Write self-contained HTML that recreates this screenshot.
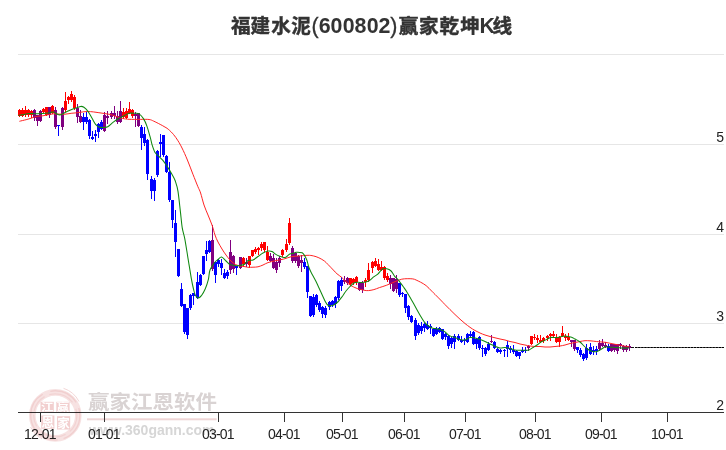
<!DOCTYPE html>
<html><head><meta charset="utf-8"><style>
html,body{margin:0;padding:0;background:#fff;}
body{width:726px;height:450px;overflow:hidden;}
svg{display:block;}
.title{font-family:"Liberation Sans","Noto Sans CJK SC",sans-serif;font-weight:bold;font-size:20px;fill:#333;}
.xl{font-family:"Liberation Sans",sans-serif;font-size:14px;fill:#222;text-anchor:middle;letter-spacing:-0.8px;}
.yl{font-family:"Liberation Sans",sans-serif;font-size:14px;fill:#222;text-anchor:end;}
.tc{font-size:19.6px;stroke:#333;stroke-width:0.45px;}
.tl{font-size:21.4px;}
.tp{font-size:21.4px;font-weight:normal;stroke:#333;stroke-width:0.3px;}
.wm{font-family:"Liberation Sans","Noto Sans CJK SC",sans-serif;}
</style></head><body>
<svg width="726" height="450" viewBox="0 0 726 450">
<rect width="726" height="450" fill="#fff"/>
<text x="230.9 250.6 271.2 291.3 311.4 318.7 330.4 342.7 354.4 366.7 378.4 390.2 398.8 419.0 439.4 460.3 479.4 492.6" y="33" class="title"><tspan class="tc">福建水泥</tspan><tspan class="tp">(</tspan><tspan class="tl">600802</tspan><tspan class="tp">)</tspan><tspan class="tc">赢家乾坤</tspan><tspan class="tl">K</tspan><tspan class="tc">线</tspan></text>
<g fill="#e6e6e6">
<rect x="18" y="54" width="706" height="1"/>
<rect x="18" y="144" width="706" height="1"/>
<rect x="18" y="234" width="706" height="1"/>
<rect x="18" y="323" width="706" height="1"/>
</g>
<g class="wm">
<text x="88" y="409" font-size="21.5" font-weight="bold" fill="#d9d3d3" transform="translate(0,410.5) scale(1,0.92) translate(0,-410.5)">赢家江恩软件</text>
<rect x="87" y="418.3" width="129.6" height="2" fill="#efd6d6"/>
<text x="89" y="435" font-size="14" font-weight="bold" fill="#d6d6d6">www.360gann.com</text>
</g>
<text x="724" y="142" class="yl">5</text>
<text x="724" y="232" class="yl">4</text>
<text x="724" y="321" class="yl">3</text>
<text x="724" y="410" class="yl">2</text>
<rect x="18" y="412" width="706" height="1" fill="#333"/>
<rect x="40" y="412" width="1" height="10" fill="#333"/>
<rect x="104" y="412" width="1" height="10" fill="#333"/>
<rect x="218" y="412" width="1" height="10" fill="#333"/>
<rect x="284" y="412" width="1" height="10" fill="#333"/>
<rect x="342" y="412" width="1" height="10" fill="#333"/>
<rect x="404" y="412" width="1" height="10" fill="#333"/>
<rect x="465" y="412" width="1" height="10" fill="#333"/>
<rect x="535" y="412" width="1" height="10" fill="#333"/>
<rect x="601" y="412" width="1" height="10" fill="#333"/>
<rect x="667" y="412" width="1" height="10" fill="#333"/>
<text x="39.9" y="439" class="xl">12-01</text>
<text x="103.9" y="439" class="xl">01-01</text>
<text x="217.9" y="439" class="xl">03-01</text>
<text x="283.9" y="439" class="xl">04-01</text>
<text x="341.9" y="439" class="xl">05-01</text>
<text x="403.9" y="439" class="xl">06-01</text>
<text x="464.9" y="439" class="xl">07-01</text>
<text x="534.9" y="439" class="xl">08-01</text>
<text x="600.9" y="439" class="xl">09-01</text>
<text x="666.9" y="439" class="xl">10-01</text>
<g class="wm">
<g style="mix-blend-mode:multiply">
<g fill="none">
<circle cx="55.3" cy="415.4" r="23" stroke="#f7e2e2" stroke-width="6.6"/>
<circle cx="55.3" cy="415.4" r="24.6" stroke="#f1cfcf" stroke-width="1.4" stroke-dasharray="30,6,22,4,40,8" />
<circle cx="55.3" cy="415.4" r="21.6" stroke="#f2d3d3" stroke-width="1.2" stroke-dasharray="18,5,26,7,12,4"/>
<path d="M63.5,388.3 A26.8,26.8 0 0 1 79,401.5" stroke="#f3d6d6" stroke-width="1"/>
<path d="M30.5,427 A26.5,26.5 0 0 0 42,439" stroke="#f3d6d6" stroke-width="1"/>
</g>
<g fill="#f2cfcf">
<rect x="40.5" y="401.8" width="13.3" height="10"/>
<rect x="56.3" y="401.8" width="13.3" height="10.2"/>
<rect x="41.2" y="415.5" width="13.2" height="13.3"/>
<rect x="57" y="416.2" width="13.2" height="13.3"/>
</g>
<g fill="#fff" font-weight="bold" text-anchor="middle" font-size="12.5">
<text x="47.2" y="410.8" transform="translate(47.2,410.8) scale(1,0.8) translate(-47.2,-410.8)">江</text>
<text x="63" y="410.8" transform="translate(63,410.8) scale(1,0.8) translate(-63,-410.8)">赢</text>
<text x="47.8" y="427.2">恩</text>
<text x="63.6" y="428">家</text>
</g>
</g>
</g>
<g>
<rect x="19" y="109" width="1" height="8" fill="#ff0000"/>
<rect x="18" y="110" width="3" height="6" fill="#ff0000"/>
<rect x="22" y="108" width="1" height="9" fill="#ff0000"/>
<rect x="21" y="110" width="3" height="6" fill="#ff0000"/>
<rect x="25" y="106" width="1" height="11" fill="#ff0000"/>
<rect x="24" y="110" width="3" height="5" fill="#ff0000"/>
<rect x="28" y="109" width="1" height="8" fill="#ff0000"/>
<rect x="27" y="110" width="3" height="5" fill="#ff0000"/>
<rect x="31" y="110" width="1" height="8" fill="#ff0000"/>
<rect x="30" y="111" width="3" height="4" fill="#ff0000"/>
<rect x="34" y="109" width="1" height="12" fill="#800080"/>
<rect x="33" y="110" width="3" height="8" fill="#800080"/>
<rect x="37" y="115" width="1" height="11" fill="#800080"/>
<rect x="36" y="115" width="3" height="6" fill="#800080"/>
<rect x="40" y="110" width="1" height="12" fill="#800080"/>
<rect x="39" y="111" width="3" height="10" fill="#800080"/>
<rect x="43" y="108" width="1" height="5" fill="#ff0000"/>
<rect x="42" y="109" width="3" height="3" fill="#ff0000"/>
<rect x="46" y="107" width="1" height="9" fill="#ff0000"/>
<rect x="45" y="107" width="3" height="8" fill="#ff0000"/>
<rect x="49" y="107" width="1" height="11" fill="#800080"/>
<rect x="48" y="107" width="3" height="8" fill="#800080"/>
<rect x="52" y="105" width="1" height="9" fill="#ff0000"/>
<rect x="51" y="106" width="3" height="7" fill="#ff0000"/>
<rect x="55" y="107" width="1" height="22" fill="#800080"/>
<rect x="54" y="110" width="3" height="17" fill="#800080"/>
<rect x="58" y="125" width="1" height="11" fill="#0000ff"/>
<rect x="57" y="125" width="3" height="1" fill="#0000ff"/>
<rect x="62" y="107" width="1" height="23" fill="#800080"/>
<rect x="61" y="108" width="3" height="19" fill="#800080"/>
<rect x="65" y="92" width="1" height="20" fill="#ff0000"/>
<rect x="64" y="101" width="3" height="9" fill="#ff0000"/>
<rect x="68" y="96" width="1" height="8" fill="#ff0000"/>
<rect x="67" y="97" width="3" height="3" fill="#ff0000"/>
<rect x="71" y="91" width="1" height="11" fill="#ff0000"/>
<rect x="70" y="94" width="3" height="6" fill="#ff0000"/>
<rect x="74" y="95" width="1" height="15" fill="#ff0000"/>
<rect x="73" y="97" width="3" height="11" fill="#ff0000"/>
<rect x="77" y="104" width="1" height="19" fill="#800080"/>
<rect x="76" y="108" width="3" height="9" fill="#800080"/>
<rect x="80" y="110" width="1" height="13" fill="#800080"/>
<rect x="79" y="116" width="3" height="6" fill="#800080"/>
<rect x="83" y="113" width="1" height="17" fill="#0000ff"/>
<rect x="82" y="117" width="3" height="5" fill="#0000ff"/>
<rect x="86" y="112" width="1" height="12" fill="#0000ff"/>
<rect x="85" y="117" width="3" height="5" fill="#0000ff"/>
<rect x="89" y="119" width="1" height="20" fill="#0000ff"/>
<rect x="88" y="120" width="3" height="16" fill="#0000ff"/>
<rect x="92" y="131" width="1" height="9" fill="#0000ff"/>
<rect x="91" y="137" width="3" height="2" fill="#0000ff"/>
<rect x="95" y="130" width="1" height="12" fill="#0000ff"/>
<rect x="94" y="134" width="3" height="2" fill="#0000ff"/>
<rect x="98" y="123" width="1" height="15" fill="#0000ff"/>
<rect x="97" y="124" width="3" height="8" fill="#0000ff"/>
<rect x="101" y="120" width="1" height="10" fill="#0000ff"/>
<rect x="100" y="122" width="3" height="7" fill="#0000ff"/>
<rect x="104" y="112" width="1" height="20" fill="#800080"/>
<rect x="103" y="115" width="3" height="16" fill="#800080"/>
<rect x="107" y="111" width="1" height="13" fill="#800080"/>
<rect x="106" y="116" width="3" height="2" fill="#800080"/>
<rect x="111" y="111" width="1" height="8" fill="#800080"/>
<rect x="110" y="113" width="3" height="4" fill="#800080"/>
<rect x="114" y="106" width="1" height="13" fill="#800080"/>
<rect x="113" y="113" width="3" height="3" fill="#800080"/>
<rect x="117" y="111" width="1" height="13" fill="#800080"/>
<rect x="116" y="116" width="3" height="6" fill="#800080"/>
<rect x="120" y="101" width="1" height="22" fill="#800080"/>
<rect x="119" y="111" width="3" height="11" fill="#800080"/>
<rect x="123" y="108" width="1" height="11" fill="#ff0000"/>
<rect x="122" y="112" width="3" height="5" fill="#ff0000"/>
<rect x="126" y="108" width="1" height="11" fill="#ff0000"/>
<rect x="125" y="111" width="3" height="7" fill="#ff0000"/>
<rect x="129" y="102" width="1" height="12" fill="#ff0000"/>
<rect x="128" y="109" width="3" height="4" fill="#ff0000"/>
<rect x="132" y="109" width="1" height="9" fill="#ff0000"/>
<rect x="131" y="110" width="3" height="6" fill="#ff0000"/>
<rect x="135" y="112" width="1" height="15" fill="#800080"/>
<rect x="134" y="114" width="3" height="2" fill="#800080"/>
<rect x="138" y="113" width="1" height="14" fill="#800080"/>
<rect x="137" y="113" width="3" height="13" fill="#800080"/>
<rect x="141" y="125" width="1" height="25" fill="#0000ff"/>
<rect x="140" y="127" width="3" height="11" fill="#0000ff"/>
<rect x="144" y="127" width="1" height="19" fill="#0000ff"/>
<rect x="143" y="134" width="3" height="9" fill="#0000ff"/>
<rect x="147" y="139" width="1" height="41" fill="#0000ff"/>
<rect x="146" y="140" width="3" height="34" fill="#0000ff"/>
<rect x="151" y="176" width="1" height="23" fill="#0000ff"/>
<rect x="150" y="179" width="3" height="12" fill="#0000ff"/>
<rect x="154" y="178" width="1" height="23" fill="#0000ff"/>
<rect x="153" y="180" width="3" height="11" fill="#0000ff"/>
<rect x="157" y="150" width="1" height="27" fill="#0000ff"/>
<rect x="156" y="151" width="3" height="24" fill="#0000ff"/>
<rect x="160" y="134" width="1" height="23" fill="#0000ff"/>
<rect x="159" y="142" width="3" height="2" fill="#0000ff"/>
<rect x="163" y="135" width="1" height="22" fill="#0000ff"/>
<rect x="162" y="135" width="3" height="20" fill="#0000ff"/>
<rect x="166" y="155" width="1" height="18" fill="#0000ff"/>
<rect x="165" y="156" width="3" height="16" fill="#0000ff"/>
<rect x="169" y="162" width="1" height="40" fill="#0000ff"/>
<rect x="168" y="172" width="3" height="28" fill="#0000ff"/>
<rect x="172" y="200" width="1" height="28" fill="#0000ff"/>
<rect x="171" y="200" width="3" height="20" fill="#0000ff"/>
<rect x="175" y="210" width="1" height="47" fill="#0000ff"/>
<rect x="174" y="223" width="3" height="19" fill="#0000ff"/>
<rect x="178" y="249" width="1" height="28" fill="#0000ff"/>
<rect x="177" y="249" width="3" height="27" fill="#0000ff"/>
<rect x="181" y="283" width="1" height="24" fill="#0000ff"/>
<rect x="180" y="289" width="3" height="17" fill="#0000ff"/>
<rect x="184" y="304" width="1" height="30" fill="#0000ff"/>
<rect x="183" y="304" width="3" height="28" fill="#0000ff"/>
<rect x="187" y="308" width="1" height="31" fill="#0000ff"/>
<rect x="186" y="308" width="3" height="27" fill="#0000ff"/>
<rect x="190" y="294" width="1" height="16" fill="#0000ff"/>
<rect x="189" y="295" width="3" height="13" fill="#0000ff"/>
<rect x="193" y="293" width="1" height="12" fill="#0000ff"/>
<rect x="192" y="293" width="3" height="3" fill="#0000ff"/>
<rect x="197" y="272" width="1" height="27" fill="#0000ff"/>
<rect x="196" y="282" width="3" height="16" fill="#0000ff"/>
<rect x="200" y="274" width="1" height="12" fill="#0000ff"/>
<rect x="199" y="275" width="3" height="10" fill="#0000ff"/>
<rect x="203" y="256" width="1" height="19" fill="#0000ff"/>
<rect x="202" y="256" width="3" height="18" fill="#0000ff"/>
<rect x="206" y="241" width="1" height="20" fill="#0000ff"/>
<rect x="205" y="250" width="3" height="4" fill="#0000ff"/>
<rect x="209" y="240" width="1" height="13" fill="#0000ff"/>
<rect x="208" y="241" width="3" height="11" fill="#0000ff"/>
<rect x="212" y="225" width="1" height="46" fill="#800080"/>
<rect x="211" y="240" width="3" height="29" fill="#800080"/>
<rect x="215" y="262" width="1" height="21" fill="#0000ff"/>
<rect x="214" y="262" width="3" height="13" fill="#0000ff"/>
<rect x="218" y="259" width="1" height="8" fill="#0000ff"/>
<rect x="217" y="260" width="3" height="4" fill="#0000ff"/>
<rect x="221" y="259" width="1" height="16" fill="#0000ff"/>
<rect x="220" y="263" width="3" height="5" fill="#0000ff"/>
<rect x="224" y="269" width="1" height="10" fill="#0000ff"/>
<rect x="223" y="273" width="3" height="5" fill="#0000ff"/>
<rect x="227" y="270" width="1" height="9" fill="#0000ff"/>
<rect x="226" y="272" width="3" height="4" fill="#0000ff"/>
<rect x="230" y="240" width="1" height="34" fill="#800080"/>
<rect x="229" y="252" width="3" height="18" fill="#800080"/>
<rect x="233" y="255" width="1" height="18" fill="#800080"/>
<rect x="232" y="256" width="3" height="13" fill="#800080"/>
<rect x="236" y="266" width="1" height="9" fill="#0000ff"/>
<rect x="235" y="266" width="3" height="2" fill="#0000ff"/>
<rect x="240" y="257" width="1" height="12" fill="#800080"/>
<rect x="239" y="257" width="3" height="11" fill="#800080"/>
<rect x="243" y="257" width="1" height="10" fill="#ff0000"/>
<rect x="242" y="258" width="3" height="6" fill="#ff0000"/>
<rect x="246" y="258" width="1" height="9" fill="#800080"/>
<rect x="245" y="262" width="3" height="2" fill="#800080"/>
<rect x="249" y="256" width="1" height="12" fill="#ff0000"/>
<rect x="248" y="256" width="3" height="9" fill="#ff0000"/>
<rect x="252" y="250" width="1" height="7" fill="#ff0000"/>
<rect x="251" y="250" width="3" height="6" fill="#ff0000"/>
<rect x="255" y="247" width="1" height="7" fill="#ff0000"/>
<rect x="254" y="249" width="3" height="3" fill="#ff0000"/>
<rect x="258" y="247" width="1" height="8" fill="#ff0000"/>
<rect x="257" y="248" width="3" height="2" fill="#ff0000"/>
<rect x="261" y="242" width="1" height="9" fill="#ff0000"/>
<rect x="260" y="244" width="3" height="4" fill="#ff0000"/>
<rect x="264" y="242" width="1" height="10" fill="#ff0000"/>
<rect x="263" y="242" width="3" height="8" fill="#ff0000"/>
<rect x="267" y="246" width="1" height="15" fill="#ff0000"/>
<rect x="266" y="252" width="3" height="8" fill="#ff0000"/>
<rect x="270" y="253" width="1" height="9" fill="#800080"/>
<rect x="269" y="256" width="3" height="5" fill="#800080"/>
<rect x="273" y="254" width="1" height="15" fill="#800080"/>
<rect x="272" y="258" width="3" height="10" fill="#800080"/>
<rect x="276" y="258" width="1" height="15" fill="#800080"/>
<rect x="275" y="262" width="3" height="8" fill="#800080"/>
<rect x="279" y="256" width="1" height="11" fill="#800080"/>
<rect x="278" y="258" width="3" height="5" fill="#800080"/>
<rect x="282" y="249" width="1" height="8" fill="#ff0000"/>
<rect x="281" y="250" width="3" height="5" fill="#ff0000"/>
<rect x="286" y="239" width="1" height="13" fill="#ff0000"/>
<rect x="285" y="244" width="3" height="6" fill="#ff0000"/>
<rect x="289" y="218" width="1" height="27" fill="#ff0000"/>
<rect x="288" y="223" width="3" height="20" fill="#ff0000"/>
<rect x="292" y="246" width="1" height="17" fill="#800080"/>
<rect x="291" y="248" width="3" height="13" fill="#800080"/>
<rect x="295" y="252" width="1" height="11" fill="#800080"/>
<rect x="294" y="253" width="3" height="8" fill="#800080"/>
<rect x="298" y="255" width="1" height="13" fill="#800080"/>
<rect x="297" y="256" width="3" height="10" fill="#800080"/>
<rect x="301" y="255" width="1" height="17" fill="#800080"/>
<rect x="300" y="260" width="3" height="3" fill="#800080"/>
<rect x="304" y="258" width="1" height="11" fill="#0000ff"/>
<rect x="303" y="262" width="3" height="5" fill="#0000ff"/>
<rect x="307" y="266" width="1" height="32" fill="#0000ff"/>
<rect x="306" y="266" width="3" height="26" fill="#0000ff"/>
<rect x="310" y="296" width="1" height="21" fill="#0000ff"/>
<rect x="309" y="296" width="3" height="20" fill="#0000ff"/>
<rect x="313" y="294" width="1" height="23" fill="#0000ff"/>
<rect x="312" y="297" width="3" height="18" fill="#0000ff"/>
<rect x="316" y="294" width="1" height="13" fill="#0000ff"/>
<rect x="315" y="295" width="3" height="10" fill="#0000ff"/>
<rect x="319" y="301" width="1" height="11" fill="#0000ff"/>
<rect x="318" y="303" width="3" height="7" fill="#0000ff"/>
<rect x="322" y="306" width="1" height="12" fill="#0000ff"/>
<rect x="321" y="307" width="3" height="7" fill="#0000ff"/>
<rect x="325" y="306" width="1" height="12" fill="#0000ff"/>
<rect x="324" y="308" width="3" height="7" fill="#0000ff"/>
<rect x="329" y="301" width="1" height="9" fill="#0000ff"/>
<rect x="328" y="302" width="3" height="5" fill="#0000ff"/>
<rect x="332" y="300" width="1" height="7" fill="#0000ff"/>
<rect x="331" y="301" width="3" height="4" fill="#0000ff"/>
<rect x="335" y="296" width="1" height="12" fill="#0000ff"/>
<rect x="334" y="297" width="3" height="7" fill="#0000ff"/>
<rect x="338" y="280" width="1" height="20" fill="#0000ff"/>
<rect x="337" y="281" width="3" height="17" fill="#0000ff"/>
<rect x="341" y="277" width="1" height="14" fill="#0000ff"/>
<rect x="340" y="280" width="3" height="6" fill="#0000ff"/>
<rect x="344" y="276" width="1" height="8" fill="#800080"/>
<rect x="343" y="280" width="3" height="2" fill="#800080"/>
<rect x="347" y="277" width="1" height="8" fill="#800080"/>
<rect x="346" y="278" width="3" height="5" fill="#800080"/>
<rect x="350" y="278" width="1" height="8" fill="#ff0000"/>
<rect x="349" y="278" width="3" height="6" fill="#ff0000"/>
<rect x="353" y="278" width="1" height="7" fill="#ff0000"/>
<rect x="352" y="279" width="3" height="4" fill="#ff0000"/>
<rect x="356" y="276" width="1" height="9" fill="#ff0000"/>
<rect x="355" y="277" width="3" height="5" fill="#ff0000"/>
<rect x="359" y="282" width="1" height="9" fill="#800080"/>
<rect x="358" y="283" width="3" height="7" fill="#800080"/>
<rect x="362" y="281" width="1" height="12" fill="#800080"/>
<rect x="361" y="283" width="3" height="7" fill="#800080"/>
<rect x="365" y="278" width="1" height="9" fill="#ff0000"/>
<rect x="364" y="280" width="3" height="2" fill="#ff0000"/>
<rect x="368" y="263" width="1" height="19" fill="#ff0000"/>
<rect x="367" y="270" width="3" height="10" fill="#ff0000"/>
<rect x="372" y="261" width="1" height="12" fill="#ff0000"/>
<rect x="371" y="262" width="3" height="6" fill="#ff0000"/>
<rect x="375" y="258" width="1" height="9" fill="#ff0000"/>
<rect x="374" y="261" width="3" height="5" fill="#ff0000"/>
<rect x="378" y="259" width="1" height="12" fill="#ff0000"/>
<rect x="377" y="264" width="3" height="6" fill="#ff0000"/>
<rect x="381" y="261" width="1" height="10" fill="#ff0000"/>
<rect x="380" y="267" width="3" height="3" fill="#ff0000"/>
<rect x="384" y="266" width="1" height="14" fill="#ff0000"/>
<rect x="383" y="267" width="3" height="11" fill="#ff0000"/>
<rect x="387" y="273" width="1" height="9" fill="#ff0000"/>
<rect x="386" y="276" width="3" height="4" fill="#ff0000"/>
<rect x="390" y="275" width="1" height="14" fill="#800080"/>
<rect x="389" y="278" width="3" height="6" fill="#800080"/>
<rect x="393" y="278" width="1" height="14" fill="#800080"/>
<rect x="392" y="278" width="3" height="13" fill="#800080"/>
<rect x="396" y="275" width="1" height="18" fill="#800080"/>
<rect x="395" y="279" width="3" height="10" fill="#800080"/>
<rect x="399" y="283" width="1" height="14" fill="#0000ff"/>
<rect x="398" y="283" width="3" height="12" fill="#0000ff"/>
<rect x="402" y="292" width="1" height="5" fill="#0000ff"/>
<rect x="401" y="293" width="3" height="1" fill="#0000ff"/>
<rect x="405" y="294" width="1" height="19" fill="#0000ff"/>
<rect x="404" y="294" width="3" height="14" fill="#0000ff"/>
<rect x="408" y="305" width="1" height="15" fill="#0000ff"/>
<rect x="407" y="306" width="3" height="11" fill="#0000ff"/>
<rect x="411" y="315" width="1" height="8" fill="#0000ff"/>
<rect x="410" y="316" width="3" height="6" fill="#0000ff"/>
<rect x="415" y="318" width="1" height="22" fill="#0000ff"/>
<rect x="414" y="320" width="3" height="16" fill="#0000ff"/>
<rect x="418" y="323" width="1" height="12" fill="#0000ff"/>
<rect x="417" y="325" width="3" height="8" fill="#0000ff"/>
<rect x="421" y="322" width="1" height="12" fill="#0000ff"/>
<rect x="420" y="326" width="3" height="5" fill="#0000ff"/>
<rect x="424" y="323" width="1" height="9" fill="#0000ff"/>
<rect x="423" y="324" width="3" height="4" fill="#0000ff"/>
<rect x="427" y="321" width="1" height="9" fill="#0000ff"/>
<rect x="426" y="325" width="3" height="4" fill="#0000ff"/>
<rect x="430" y="324" width="1" height="10" fill="#0000ff"/>
<rect x="429" y="326" width="3" height="2" fill="#0000ff"/>
<rect x="433" y="328" width="1" height="9" fill="#0000ff"/>
<rect x="432" y="329" width="3" height="7" fill="#0000ff"/>
<rect x="436" y="327" width="1" height="8" fill="#0000ff"/>
<rect x="435" y="329" width="3" height="5" fill="#0000ff"/>
<rect x="439" y="327" width="1" height="6" fill="#0000ff"/>
<rect x="438" y="328" width="3" height="4" fill="#0000ff"/>
<rect x="442" y="329" width="1" height="11" fill="#0000ff"/>
<rect x="441" y="329" width="3" height="10" fill="#0000ff"/>
<rect x="445" y="333" width="1" height="7" fill="#0000ff"/>
<rect x="444" y="334" width="3" height="3" fill="#0000ff"/>
<rect x="448" y="335" width="1" height="14" fill="#0000ff"/>
<rect x="447" y="336" width="3" height="10" fill="#0000ff"/>
<rect x="451" y="337" width="1" height="11" fill="#0000ff"/>
<rect x="450" y="338" width="3" height="6" fill="#0000ff"/>
<rect x="454" y="334" width="1" height="15" fill="#0000ff"/>
<rect x="453" y="336" width="3" height="6" fill="#0000ff"/>
<rect x="458" y="334" width="1" height="7" fill="#0000ff"/>
<rect x="457" y="336" width="3" height="4" fill="#0000ff"/>
<rect x="461" y="336" width="1" height="7" fill="#0000ff"/>
<rect x="460" y="340" width="3" height="2" fill="#0000ff"/>
<rect x="464" y="338" width="1" height="7" fill="#0000ff"/>
<rect x="463" y="340" width="3" height="1" fill="#0000ff"/>
<rect x="467" y="333" width="1" height="10" fill="#0000ff"/>
<rect x="466" y="334" width="3" height="8" fill="#0000ff"/>
<rect x="470" y="331" width="1" height="6" fill="#0000ff"/>
<rect x="469" y="334" width="3" height="2" fill="#0000ff"/>
<rect x="473" y="331" width="1" height="14" fill="#0000ff"/>
<rect x="472" y="332" width="3" height="12" fill="#0000ff"/>
<rect x="476" y="338" width="1" height="11" fill="#0000ff"/>
<rect x="475" y="339" width="3" height="5" fill="#0000ff"/>
<rect x="479" y="336" width="1" height="14" fill="#0000ff"/>
<rect x="478" y="337" width="3" height="11" fill="#0000ff"/>
<rect x="482" y="345" width="1" height="12" fill="#0000ff"/>
<rect x="481" y="348" width="3" height="1" fill="#0000ff"/>
<rect x="485" y="347" width="1" height="9" fill="#0000ff"/>
<rect x="484" y="348" width="3" height="6" fill="#0000ff"/>
<rect x="488" y="342" width="1" height="9" fill="#0000ff"/>
<rect x="487" y="344" width="3" height="6" fill="#0000ff"/>
<rect x="491" y="335" width="1" height="8" fill="#800080"/>
<rect x="490" y="341" width="3" height="1" fill="#800080"/>
<rect x="494" y="341" width="1" height="8" fill="#0000ff"/>
<rect x="493" y="342" width="3" height="6" fill="#0000ff"/>
<rect x="497" y="348" width="1" height="5" fill="#0000ff"/>
<rect x="496" y="349" width="3" height="3" fill="#0000ff"/>
<rect x="500" y="349" width="1" height="5" fill="#0000ff"/>
<rect x="499" y="350" width="3" height="2" fill="#0000ff"/>
<rect x="504" y="349" width="1" height="8" fill="#0000ff"/>
<rect x="503" y="350" width="3" height="1" fill="#0000ff"/>
<rect x="507" y="341" width="1" height="16" fill="#0000ff"/>
<rect x="506" y="345" width="3" height="4" fill="#0000ff"/>
<rect x="510" y="346" width="1" height="7" fill="#0000ff"/>
<rect x="509" y="348" width="3" height="2" fill="#0000ff"/>
<rect x="513" y="345" width="1" height="9" fill="#0000ff"/>
<rect x="512" y="350" width="3" height="2" fill="#0000ff"/>
<rect x="516" y="350" width="1" height="7" fill="#0000ff"/>
<rect x="515" y="351" width="3" height="5" fill="#0000ff"/>
<rect x="519" y="352" width="1" height="7" fill="#0000ff"/>
<rect x="518" y="352" width="3" height="4" fill="#0000ff"/>
<rect x="522" y="347" width="1" height="6" fill="#0000ff"/>
<rect x="521" y="350" width="3" height="2" fill="#0000ff"/>
<rect x="525" y="347" width="1" height="6" fill="#0000ff"/>
<rect x="524" y="350" width="3" height="1" fill="#0000ff"/>
<rect x="528" y="345" width="1" height="6" fill="#800080"/>
<rect x="527" y="346" width="3" height="2" fill="#800080"/>
<rect x="531" y="336" width="1" height="9" fill="#ff0000"/>
<rect x="530" y="336" width="3" height="8" fill="#ff0000"/>
<rect x="534" y="334" width="1" height="6" fill="#ff0000"/>
<rect x="533" y="337" width="3" height="1" fill="#ff0000"/>
<rect x="537" y="335" width="1" height="8" fill="#ff0000"/>
<rect x="536" y="338" width="3" height="2" fill="#ff0000"/>
<rect x="540" y="335" width="1" height="8" fill="#ff0000"/>
<rect x="539" y="340" width="3" height="2" fill="#ff0000"/>
<rect x="543" y="337" width="1" height="6" fill="#ff0000"/>
<rect x="542" y="338" width="3" height="3" fill="#ff0000"/>
<rect x="547" y="335" width="1" height="6" fill="#ff0000"/>
<rect x="546" y="336" width="3" height="2" fill="#ff0000"/>
<rect x="550" y="333" width="1" height="8" fill="#ff0000"/>
<rect x="549" y="334" width="3" height="2" fill="#ff0000"/>
<rect x="553" y="331" width="1" height="7" fill="#ff0000"/>
<rect x="552" y="334" width="3" height="2" fill="#ff0000"/>
<rect x="556" y="334" width="1" height="9" fill="#ff0000"/>
<rect x="555" y="338" width="3" height="4" fill="#ff0000"/>
<rect x="559" y="336" width="1" height="11" fill="#ff0000"/>
<rect x="558" y="337" width="3" height="5" fill="#ff0000"/>
<rect x="562" y="326" width="1" height="11" fill="#ff0000"/>
<rect x="561" y="333" width="3" height="3" fill="#ff0000"/>
<rect x="565" y="334" width="1" height="7" fill="#ff0000"/>
<rect x="564" y="336" width="3" height="2" fill="#ff0000"/>
<rect x="568" y="333" width="1" height="8" fill="#ff0000"/>
<rect x="567" y="337" width="3" height="3" fill="#ff0000"/>
<rect x="571" y="340" width="1" height="7" fill="#800080"/>
<rect x="570" y="340" width="3" height="2" fill="#800080"/>
<rect x="574" y="340" width="1" height="11" fill="#800080"/>
<rect x="573" y="340" width="3" height="9" fill="#800080"/>
<rect x="577" y="347" width="1" height="6" fill="#0000ff"/>
<rect x="576" y="347" width="3" height="3" fill="#0000ff"/>
<rect x="580" y="348" width="1" height="9" fill="#0000ff"/>
<rect x="579" y="350" width="3" height="5" fill="#0000ff"/>
<rect x="583" y="353" width="1" height="8" fill="#0000ff"/>
<rect x="582" y="354" width="3" height="5" fill="#0000ff"/>
<rect x="586" y="344" width="1" height="16" fill="#0000ff"/>
<rect x="585" y="348" width="3" height="10" fill="#0000ff"/>
<rect x="590" y="343" width="1" height="12" fill="#0000ff"/>
<rect x="589" y="347" width="3" height="7" fill="#0000ff"/>
<rect x="593" y="346" width="1" height="9" fill="#0000ff"/>
<rect x="592" y="350" width="3" height="2" fill="#0000ff"/>
<rect x="596" y="346" width="1" height="9" fill="#0000ff"/>
<rect x="595" y="349" width="3" height="2" fill="#0000ff"/>
<rect x="599" y="340" width="1" height="11" fill="#800080"/>
<rect x="598" y="343" width="3" height="6" fill="#800080"/>
<rect x="602" y="339" width="1" height="8" fill="#800080"/>
<rect x="601" y="343" width="3" height="3" fill="#800080"/>
<rect x="605" y="342" width="1" height="6" fill="#800080"/>
<rect x="604" y="345" width="3" height="2" fill="#800080"/>
<rect x="608" y="344" width="1" height="8" fill="#0000ff"/>
<rect x="607" y="346" width="3" height="5" fill="#0000ff"/>
<rect x="611" y="344" width="1" height="8" fill="#800080"/>
<rect x="610" y="344" width="3" height="7" fill="#800080"/>
<rect x="614" y="344" width="1" height="8" fill="#800080"/>
<rect x="613" y="344" width="3" height="6" fill="#800080"/>
<rect x="617" y="344" width="1" height="10" fill="#800080"/>
<rect x="616" y="344" width="3" height="7" fill="#800080"/>
<rect x="620" y="343" width="1" height="6" fill="#800080"/>
<rect x="619" y="344" width="3" height="2" fill="#800080"/>
<rect x="623" y="345" width="1" height="7" fill="#800080"/>
<rect x="622" y="346" width="3" height="4" fill="#800080"/>
<rect x="626" y="345" width="1" height="7" fill="#800080"/>
<rect x="625" y="346" width="3" height="4" fill="#800080"/>
<rect x="629" y="344" width="1" height="7" fill="#800080"/>
<rect x="628" y="346" width="3" height="2" fill="#800080"/>
</g>
<path d="M19.4,121.3 C20.5,121.0 24.1,120.2 26.1,119.7 C28.2,119.2 29.8,118.6 31.7,118.0 C33.5,117.4 35.4,116.7 37.2,116.3 C39.1,115.9 40.9,116.1 42.8,115.8 C44.6,115.5 46.4,115.0 48.3,114.7 C50.1,114.4 52.0,113.9 53.9,113.8 C55.8,113.7 57.5,114.0 59.4,114.1 C61.2,114.2 63.0,114.3 65.0,114.2 C67.0,114.1 69.1,113.5 71.1,113.3 C73.0,113.1 74.8,113.0 76.7,112.8 C78.6,112.6 80.4,112.2 82.2,112.0 C84.0,111.8 86.0,111.5 87.8,111.5 C89.6,111.5 91.4,111.7 93.3,111.9 C95.2,112.1 97.1,112.4 98.9,112.7 C100.8,113.0 102.6,113.2 104.4,113.5 C106.2,113.8 108.2,114.0 110.0,114.4 C111.8,114.8 113.3,115.4 115.0,116.0 C116.7,116.6 118.4,117.3 120.0,117.8 C121.6,118.3 122.9,118.5 124.4,118.8 C125.9,119.0 126.5,119.2 129.1,119.3 C131.7,119.4 136.9,119.4 140.2,119.4 C143.5,119.4 146.9,119.2 149.1,119.5 C151.3,119.8 151.8,120.3 153.6,121.1 C155.4,121.9 158.5,123.5 160.2,124.4 C161.9,125.3 162.7,125.7 164.0,126.5 C165.3,127.3 166.6,127.8 168.2,129.2 C169.8,130.5 172.0,132.7 173.6,134.6 C175.2,136.5 176.6,138.6 178.0,140.8 C179.4,143.0 180.4,144.8 182.0,148.0 C183.6,151.2 185.6,155.6 187.4,160.0 C189.2,164.4 191.2,169.8 192.9,174.2 C194.7,178.6 196.6,183.6 197.9,186.7 C199.2,189.8 199.6,189.9 200.6,193.0 C201.6,196.1 202.8,201.3 204.0,205.0 C205.2,208.7 206.7,211.7 208.0,215.0 C209.3,218.3 210.8,221.7 212.0,225.0 C213.2,228.3 214.0,232.2 215.0,235.0 C216.0,237.8 216.8,239.7 218.0,242.0 C219.2,244.3 220.7,246.8 222.0,249.0 C223.3,251.2 224.7,253.2 226.0,255.0 C227.3,256.8 228.7,258.6 230.0,260.0 C231.3,261.4 232.7,262.6 234.0,263.5 C235.3,264.4 236.2,265.0 238.0,265.5 C239.8,266.0 243.3,266.4 245.0,266.7 C246.7,267.0 246.7,267.2 248.0,267.3 C249.3,267.4 251.3,267.3 253.0,267.2 C254.7,267.1 256.3,267.2 258.0,266.8 C259.7,266.4 261.3,265.7 263.0,265.0 C264.7,264.3 265.9,263.3 268.0,262.6 C270.1,261.9 273.2,261.2 275.8,260.6 C278.4,260.0 281.0,259.8 283.6,259.1 C286.2,258.5 288.7,257.2 291.3,256.7 C293.9,256.2 296.3,256.2 299.1,256.0 C301.9,255.8 305.6,255.3 308.0,255.3 C310.4,255.3 311.5,255.5 313.3,255.9 C315.1,256.3 317.0,256.9 318.9,257.8 C320.8,258.7 322.9,259.9 324.4,261.0 C325.9,262.1 326.5,263.0 328.0,264.5 C329.5,266.0 331.8,268.4 333.3,270.0 C334.8,271.6 335.6,272.6 337.0,273.8 C338.4,275.0 340.2,276.1 341.7,277.4 C343.2,278.7 344.6,280.4 346.1,281.7 C347.6,283.0 348.8,284.3 350.6,285.4 C352.5,286.5 355.0,287.7 357.2,288.5 C359.4,289.3 362.0,289.8 363.9,290.2 C365.8,290.6 366.6,290.7 368.3,290.6 C370.0,290.5 372.0,290.1 373.9,289.6 C375.8,289.1 377.3,288.3 379.4,287.6 C381.5,286.9 384.1,286.2 386.7,285.2 C389.3,284.2 392.5,282.7 395.0,281.7 C397.5,280.7 399.7,279.7 401.7,279.2 C403.7,278.7 405.3,278.8 407.2,278.7 C409.1,278.6 411.3,278.7 412.8,278.9 C414.3,279.1 414.8,279.4 416.1,280.0 C417.4,280.6 418.9,281.3 420.6,282.2 C422.3,283.1 424.2,284.1 426.1,285.6 C428.0,287.1 430.2,289.6 431.7,291.1 C433.2,292.6 433.5,292.9 435.0,294.4 C436.5,295.9 438.9,298.3 440.6,300.0 C442.3,301.7 443.4,303.0 445.0,304.6 C446.6,306.2 448.3,308.0 450.0,309.6 C451.7,311.2 453.3,312.9 455.0,314.5 C456.7,316.1 458.3,317.7 460.0,319.2 C461.7,320.7 463.3,322.1 465.0,323.5 C466.7,324.9 468.3,326.1 470.0,327.3 C471.7,328.5 473.3,329.6 475.0,330.5 C476.7,331.4 478.3,332.2 480.0,333.0 C481.7,333.8 483.3,334.4 485.0,335.0 C486.7,335.6 488.3,336.0 490.0,336.5 C491.7,337.0 493.3,337.4 495.0,337.8 C496.7,338.2 498.3,338.6 500.0,339.0 C501.7,339.4 503.3,339.6 505.0,340.0 C506.7,340.4 508.3,341.1 510.0,341.5 C511.7,341.9 513.3,342.1 515.0,342.5 C516.7,342.9 518.3,343.6 520.0,344.0 C521.7,344.4 523.3,344.7 525.0,345.0 C526.7,345.3 528.3,345.8 530.0,346.0 C531.7,346.2 533.3,346.4 535.0,346.5 C536.7,346.6 538.3,346.4 540.0,346.5 C541.7,346.6 543.3,346.9 545.0,347.0 C546.7,347.1 548.3,347.1 550.0,347.0 C551.7,346.9 553.3,346.7 555.0,346.5 C556.7,346.3 558.3,346.2 560.0,346.0 C561.7,345.8 563.3,345.4 565.0,345.0 C566.7,344.6 568.3,343.9 570.0,343.5 C571.7,343.1 573.3,342.8 575.0,342.5 C576.7,342.2 578.3,341.8 580.0,341.5 C581.7,341.2 583.3,340.8 585.0,340.7 C586.7,340.6 588.1,340.7 590.0,340.8 C591.9,340.9 594.5,341.3 596.3,341.5 C598.1,341.7 599.3,341.8 600.8,341.9 C602.3,342.0 603.7,342.1 605.2,342.3 C606.7,342.5 608.2,342.9 609.7,343.2 C611.2,343.5 612.6,343.8 614.1,344.1 C615.6,344.4 617.1,344.7 618.6,345.0 C620.1,345.3 621.2,345.6 623.0,345.9 C624.8,346.2 628.2,346.6 629.3,346.8" fill="none" stroke="#ff2424" stroke-width="1"/>
<path d="M18.5,115.4 C19.1,115.3 20.7,115.0 22.0,114.8 C23.3,114.6 24.8,114.2 26.1,114.0 C27.4,113.8 28.1,113.5 30.0,113.5 C31.9,113.5 34.2,113.9 37.2,113.8 C40.2,113.7 45.6,113.3 48.3,113.0 C51.0,112.7 51.8,111.7 53.3,111.9 C54.8,112.1 56.0,113.7 57.2,114.2 C58.4,114.7 59.2,115.1 60.6,114.8 C62.0,114.5 63.8,113.0 65.6,112.2 C67.3,111.4 69.2,110.4 71.1,109.7 C72.9,109.0 75.1,108.3 76.7,107.8 C78.3,107.2 79.4,106.5 80.6,106.4 C81.8,106.3 82.7,106.4 83.9,107.2 C85.1,108.0 86.4,109.2 87.8,111.1 C89.2,113.0 90.9,116.4 92.2,118.6 C93.5,120.8 94.5,123.0 95.6,124.4 C96.7,125.8 97.8,126.5 98.9,127.0 C100.0,127.5 100.7,127.5 102.2,127.5 C103.7,127.5 106.0,127.6 107.8,126.7 C109.6,125.8 111.4,123.6 113.3,122.2 C115.2,120.8 117.1,119.4 118.9,118.3 C120.8,117.2 122.7,116.4 124.4,115.6 C126.1,114.8 127.4,113.7 129.1,113.3 C130.8,112.9 133.0,113.2 134.7,113.3 C136.4,113.4 137.6,113.0 139.1,113.9 C140.6,114.8 142.3,116.9 143.6,118.9 C144.9,120.9 145.8,123.0 146.9,126.1 C148.0,129.1 149.3,134.0 150.2,137.2 C151.1,140.4 151.4,142.7 152.2,145.2 C153.0,147.7 153.9,150.5 154.9,152.3 C155.9,154.1 157.1,154.6 158.4,155.9 C159.7,157.2 161.4,158.5 162.9,160.3 C164.4,162.1 165.8,164.3 167.3,166.6 C168.8,168.9 170.5,171.6 171.8,174.0 C173.1,176.4 174.3,178.1 175.3,181.0 C176.3,183.9 177.2,186.3 178.0,191.4 C178.8,196.5 179.7,205.6 180.4,211.6 C181.1,217.6 181.5,223.1 182.2,227.6 C182.9,232.1 183.7,233.2 184.7,238.3 C185.7,243.4 186.9,251.6 188.0,258.3 C189.1,265.0 190.4,273.2 191.3,278.3 C192.2,283.4 192.8,286.2 193.5,289.0 C194.2,291.8 194.4,293.4 195.2,294.9 C196.0,296.4 197.3,297.9 198.3,298.0 C199.3,298.1 200.2,297.2 201.4,295.7 C202.6,294.1 204.1,291.4 205.3,288.7 C206.5,286.0 207.6,282.4 208.4,279.3 C209.2,276.2 208.9,272.8 210.0,270.0 C211.1,267.2 213.4,264.2 214.7,262.5 C216.0,260.8 216.9,260.4 218.0,259.5 C219.1,258.6 220.2,256.8 221.5,257.0 C222.8,257.2 224.6,259.8 226.0,261.0 C227.4,262.2 228.5,263.8 230.0,264.5 C231.5,265.2 233.3,265.3 235.0,265.5 C236.7,265.7 238.6,265.8 240.3,265.5 C242.0,265.2 243.7,264.8 245.0,264.0 C246.3,263.2 246.7,261.2 248.0,260.5 C249.3,259.8 251.3,260.7 253.0,260.0 C254.7,259.3 256.3,257.7 258.0,256.5 C259.7,255.3 261.3,253.9 263.0,253.0 C264.7,252.1 266.5,251.2 268.0,251.0 C269.5,250.8 270.7,250.9 272.0,251.5 C273.3,252.1 274.5,253.6 275.8,254.4 C277.1,255.2 278.4,255.8 279.7,256.3 C281.0,256.8 282.6,257.4 283.6,257.5 C284.6,257.6 284.9,257.7 285.9,257.1 C286.9,256.5 288.5,254.7 289.8,254.0 C291.1,253.3 292.7,253.5 293.7,253.2 C294.7,252.9 295.1,252.3 296.0,252.2 C296.9,252.1 298.0,252.3 299.0,252.4 C300.0,252.5 301.3,252.3 302.2,252.8 C303.1,253.3 303.8,254.4 304.6,255.6 C305.4,256.8 306.2,258.4 306.9,260.2 C307.6,262.0 308.0,264.6 308.6,266.5 C309.2,268.4 309.5,269.0 310.7,271.5 C311.9,274.0 314.2,277.8 315.9,281.3 C317.6,284.8 319.5,289.1 321.0,292.3 C322.5,295.5 323.7,298.5 324.9,300.7 C326.1,302.9 326.8,304.5 328.1,305.3 C329.4,306.1 331.0,305.9 332.6,305.4 C334.2,304.8 336.1,303.6 337.8,302.0 C339.5,300.4 341.6,297.3 343.0,295.5 C344.4,293.7 344.8,292.5 346.0,291.0 C347.2,289.5 348.7,287.8 350.0,286.5 C351.3,285.2 352.7,283.7 354.0,283.0 C355.3,282.3 356.7,282.4 358.0,282.3 C359.3,282.2 360.7,282.6 362.0,282.5 C363.3,282.4 364.8,282.2 366.0,281.9 C367.2,281.6 368.3,281.3 369.5,280.5 C370.7,279.7 371.9,278.3 373.3,277.2 C374.7,276.1 376.3,275.4 377.8,274.1 C379.3,272.8 380.7,270.1 382.2,269.2 C383.7,268.3 385.2,268.5 386.7,268.8 C388.2,269.1 389.8,269.8 391.1,271.0 C392.4,272.2 393.6,275.0 394.7,276.3 C395.8,277.6 396.6,278.0 397.5,279.0 C398.4,280.0 399.0,281.0 400.0,282.3 C401.0,283.6 402.2,285.1 403.3,286.7 C404.4,288.3 405.6,289.9 406.7,291.7 C407.8,293.5 408.9,295.4 410.0,297.3 C411.1,299.2 412.2,301.0 413.3,303.0 C414.4,305.0 415.5,307.1 416.7,309.3 C417.9,311.5 419.3,314.0 420.5,316.0 C421.7,318.0 422.9,320.0 424.0,321.5 C425.1,323.0 425.7,323.9 427.2,325.0 C428.7,326.1 430.9,327.7 432.8,328.3 C434.7,328.9 436.5,328.4 438.3,328.9 C440.1,329.4 442.0,330.0 443.9,331.1 C445.8,332.2 447.5,334.5 449.4,335.6 C451.2,336.7 453.2,336.9 455.0,337.5 C456.8,338.1 458.3,339.1 460.0,339.5 C461.7,339.9 463.3,340.3 465.0,340.0 C466.7,339.7 468.3,337.8 470.0,337.5 C471.7,337.2 473.3,337.7 475.0,338.0 C476.7,338.3 478.3,338.9 480.0,339.5 C481.7,340.1 483.3,340.8 485.0,341.5 C486.7,342.2 488.3,343.2 490.0,344.0 C491.7,344.8 493.3,345.5 495.0,346.2 C496.7,346.9 498.3,347.8 500.0,348.0 C501.7,348.2 503.3,347.4 505.0,347.5 C506.7,347.6 508.3,348.1 510.0,348.5 C511.7,348.9 513.3,349.7 515.0,350.0 C516.7,350.3 518.3,350.2 520.0,350.2 C521.7,350.2 523.5,350.2 525.0,350.2 C526.5,350.2 527.7,350.4 529.0,350.0 C530.3,349.6 531.7,348.3 533.0,347.5 C534.3,346.7 535.7,345.9 537.0,345.0 C538.3,344.1 539.9,342.7 541.0,342.0 C542.1,341.3 542.5,341.4 543.5,341.0 C544.5,340.6 545.6,340.0 546.7,339.4 C547.9,338.8 549.4,337.9 550.4,337.6 C551.4,337.3 552.1,337.4 553.0,337.4 C553.9,337.4 555.0,337.6 556.0,337.6 C557.0,337.6 558.0,337.4 559.1,337.2 C560.2,337.0 561.5,336.3 562.8,336.2 C564.0,336.1 565.1,336.1 566.6,336.3 C568.1,336.5 570.2,336.8 571.6,337.2 C573.0,337.6 573.6,338.2 575.0,339.0 C576.4,339.8 578.5,340.8 580.0,342.0 C581.5,343.2 582.8,344.8 584.0,346.0 C585.2,347.2 586.1,348.1 587.4,349.0 C588.7,349.9 590.4,350.8 591.9,351.2 C593.4,351.6 594.8,352.0 596.3,351.7 C597.8,351.4 599.3,350.3 600.8,349.5 C602.3,348.7 603.9,347.2 605.2,346.8 C606.5,346.4 607.3,347.1 608.8,347.2 C610.3,347.3 612.5,347.1 614.1,347.2 C615.7,347.3 617.1,347.5 618.6,347.7 C620.1,347.9 621.2,348.1 623.0,348.1 C624.8,348.2 628.2,348.0 629.3,348.0" fill="none" stroke="#108810" stroke-width="1.05"/>
<rect x="631" y="347" width="3" height="1" fill="#111"/><rect x="635" y="347" width="89" height="1" fill="#888"/><line x1="635" y1="347.5" x2="724" y2="347.5" stroke="#000" stroke-width="1" stroke-dasharray="2.3,0.8"/>
</svg>
</body></html>
